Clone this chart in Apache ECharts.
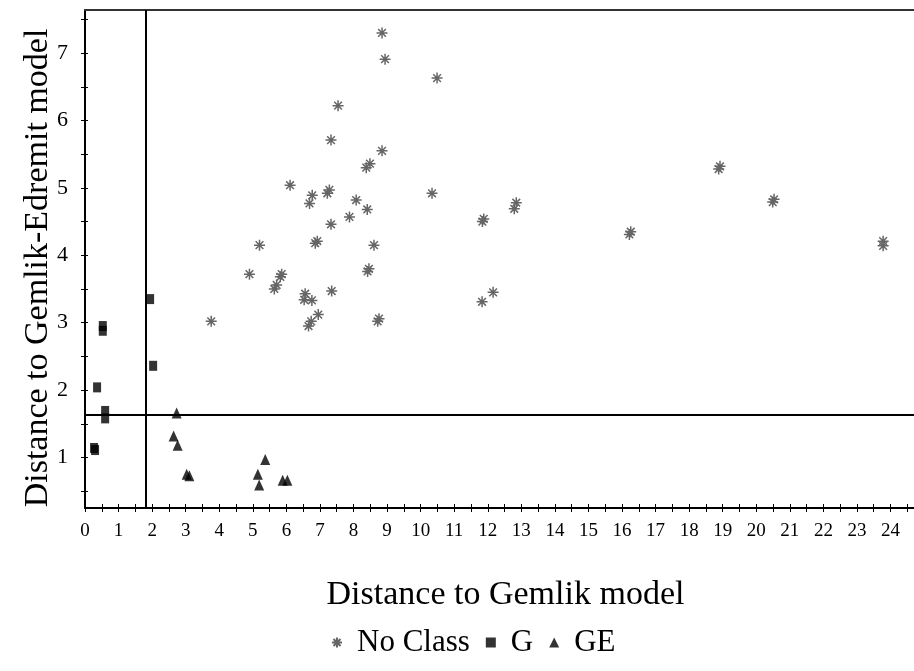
<!DOCTYPE html>
<html>
<head>
<meta charset="utf-8">
<script src="https://cdn.jsdelivr.net/npm/echarts@6/dist/echarts.min.js"></script>
<style>html,body{margin:0;padding:0;background:#fff;}#c{width:914px;height:671px;}</style>
</head>
<body>
<div id="c"></div>
<script>
// ---- data ----
const noClassX = [8.85,8.94,10.49,7.54,7.33,8.85,6.11,8.38,8.49,6.77,6.69,7.22,7.28,8.08,8.41,7.88,7.33,5.20,6.86,6.92,8.61,10.34,11.84,11.88,12.85,12.79,16.22,16.26,18.88,18.92,20.49,20.53,23.78,23.78,4.90,5.82,5.86,5.64,5.71,6.56,6.53,6.76,7.35,8.42,8.46,6.95,6.66,6.74,8.72,8.76,3.76,11.83,12.16];
const noClassY = [7.30,6.91,6.63,6.22,5.71,5.55,5.04,5.30,5.36,4.89,4.77,4.92,4.97,4.82,4.68,4.57,4.46,4.15,4.18,4.21,4.15,4.92,4.50,4.54,4.78,4.69,4.31,4.35,5.28,5.32,4.79,4.83,4.14,4.21,3.72,3.68,3.72,3.50,3.56,3.43,3.34,3.33,3.47,3.76,3.80,3.12,2.95,3.02,3.02,3.06,3.02,3.31,3.45];
const gX = [0.53,0.53,1.94,2.03,0.36,0.60,0.60,0.27,0.30];
const gY = [2.95,2.88,3.35,2.36,2.04,1.69,1.58,1.14,1.11];
const geX = [2.73,2.64,2.76,3.03,3.11,5.37,5.15,5.19,5.89,6.03];
const geY = [1.66,1.32,1.18,0.75,0.73,0.97,0.75,0.59,0.66,0.66];
const xTickLabels = [0,1,2,3,4,5,6,7,8,9,10,11,12,13,14,15,16,17,18,19,20,21,22,23,24];
const yTickLabels = [1,2,3,4,5,6,7];
const xMinorTicks = [0,0.5,1,1.5,2,2.5,3,3.5,4,4.5,5,5.5,6,6.5,7,7.5,8,8.5,9,9.5,10,10.5,11,11.5,12,12.5,13,13.5,14,14.5,15,15.5,16,16.5,17,17.5,18,18.5,19,19.5,20,20.5,21,21.5,22,22.5,23,23.5,24,24.5];
const yMinorTicks = [0.5,1,1.5,2,2.5,3,3.5,4,4.5,5,5.5,6,6.5,7,7.5];
const vLineX = 1.81;
const hLineY = 1.64;
const xTitle = 'Distance to Gemlik model';
const yTitle = 'Distance to Gemlik-Edremit model';
const seriesNames = ['No Class','G','GE'];

const zip = (a,b) => a.map((v,i)=>[v,b[i]]);
const FONT = '"Liberation Serif", "Times New Roman", serif';
const XMIN = 0, XMAX = 24.7, YMIN = 0.25, YMAX = 7.64;
const starPath = 'path://M5 0 L5 10 M0 5 L10 5 M1.5 1.5 L8.5 8.5 M1.5 8.5 L8.5 1.5';

const chart = echarts.init(document.getElementById('c'), null, {renderer:'canvas'});
const baseX = {type:'value', min:XMIN, max:XMAX, splitLine:{show:false}, gridIndex:0};
const baseY = {type:'value', min:YMIN, max:YMAX, splitLine:{show:false}, gridIndex:0};
chart.setOption({
  animation:false,
  backgroundColor:'#fff',
  grid:{left:85, top:10, right:0, bottom:163, containLabel:false},
  legend:{
    data:seriesNames, left:326, top:622, itemGap:16, itemWidth:10, itemHeight:10,
    textStyle:{fontFamily:FONT, fontSize:31, color:'#000', padding:[0,0,0,10]}
  },
  xAxis:[
    Object.assign({}, baseX, {
      position:'bottom', name:xTitle, nameLocation:'middle', nameGap:70,
      nameTextStyle:{fontFamily:FONT, fontSize:34, color:'#000', padding:[0,0,0,12]},
      axisLine:{onZero:false, lineStyle:{color:'#000', width:2}},
      axisTick:{show:true, inside:false, length:4, lineStyle:{color:'#000', width:1}, customValues:xMinorTicks},
      axisLabel:{fontFamily:FONT, fontSize:19, color:'#000', margin:14, customValues:xTickLabels}
    }),
    Object.assign({}, baseX, {
      position:'bottom', axisLine:{show:false},
      axisTick:{show:true, inside:true, length:4, lineStyle:{color:'#000', width:1}, customValues:xMinorTicks},
      axisLabel:{show:false}
    }),
    Object.assign({}, baseX, {
      position:'top', axisLine:{show:true, onZero:false, lineStyle:{color:'#333', width:2}},
      axisTick:{show:false}, axisLabel:{show:false}
    })
  ],
  yAxis:[
    Object.assign({}, baseY, {
      position:'left', name:yTitle, nameLocation:'middle', nameGap:30, nameRotate:90,
      nameMoveOverlap:false,
      nameTextStyle:{fontFamily:FONT, fontSize:34, color:'#000', padding:[0,18,0,0]},
      axisLine:{onZero:false, lineStyle:{color:'#000', width:2}},
      axisTick:{show:true, inside:false, length:4, lineStyle:{color:'#000', width:1}, customValues:yMinorTicks},
      axisLabel:{fontFamily:FONT, fontSize:22, color:'#000', margin:17, customValues:yTickLabels}
    }),
    Object.assign({}, baseY, {
      position:'left', axisLine:{show:false},
      axisTick:{show:true, inside:true, length:3, lineStyle:{color:'#000', width:1}, customValues:yMinorTicks},
      axisLabel:{show:false}
    })
  ],
  series:[
    {
      name:seriesNames[0], type:'scatter', data:zip(noClassX,noClassY),
      symbol:starPath, symbolSize:11,
      itemStyle:{color:'#666', borderColor:'#666', borderWidth:1.5, opacity:1},
      markLine:{
        silent:true, symbol:['none','none'], animation:false,
        label:{show:false},
        lineStyle:{color:'#000', width:2, type:'solid'},
        data:[{xAxis:vLineX},{yAxis:hLineY}]
      },
      z:3
    },
    {
      name:seriesNames[1], type:'scatter', data:zip(gX,gY),
      symbol:'rect', symbolSize:[8,10], itemStyle:{color:'#000'}, z:4
    },
    {
      name:seriesNames[2], type:'scatter', data:zip(geX,geY),
      symbol:'triangle', symbolSize:[10,11], itemStyle:{color:'#000'}, z:4
    }
  ]
});
</script>
</body>
</html>
